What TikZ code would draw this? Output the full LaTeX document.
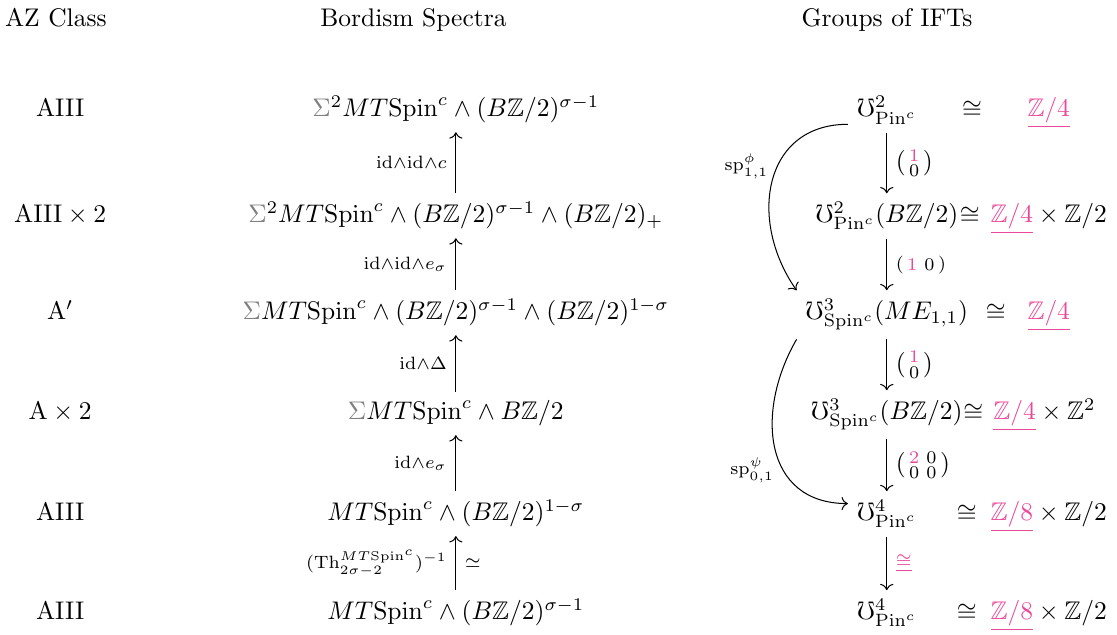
\documentclass[tikz,border=0pt]{standalone}
\usepackage{amsmath,amssymb}
\usepackage{tikz}
\usetikzlibrary{arrows.meta,calc,positioning}
\usepackage{xcolor}
\definecolor{zpink}{RGB}{236,72,153}
\newcommand{\Zb}{\mathbb{Z}}
\newcommand{\pku}[1]{\textcolor{zpink}{\underline{#1}}}
\newcommand{\gS}{{\color{gray}\Sigma}}

\begin{document}
\begin{tikzpicture}[
    r/.style={anchor=base,inner sep=3.3pt},
    lb/.style={execute at begin node=$\scriptstyle,execute at end node=$},
    e/.style={-{Computer Modern Rightarrow},line width=.4pt}
  ]
    \useasboundingbox (0,0) rectangle (15.40,-8.75);
    % column heads
    \node[r] (h1) at (0.77,-0.37) {AZ Class};
    \node[r] (h2) at (5.70,-0.37) {Bordism Spectra};
    \node[r] (h3) at (12.23,-0.37) {Groups of IFTs};
    % AZ classes
    \foreach \n/\y/\s in {1/-1.613/AIII,2/-3.074/{AIII\times 2},3/-4.411/{A'},4/-5.789/{A\times 2},5/-7.181/AIII,6/-8.546/AIII} {\node[r] (a\n) at (0.83,\y) {$\mathrm{\s}$};}
    % spectra
    \node[r] (m1) at (6.285,-1.613) {$\gS^2MT\mathrm{Spin}^c\wedge(B\Zb/2)^{\sigma-1}$};
    \node[r] (m2) at (6.285,-3.074) {$\gS^2MT\mathrm{Spin}^c\wedge(B\Zb/2)^{\sigma-1}\wedge(B\Zb/2)_+$};
    \node[r] (m3) at (6.285,-4.411) {$\gS MT\mathrm{Spin}^c\wedge(B\Zb/2)^{\sigma-1}\wedge(B\Zb/2)^{1-\sigma}$};
    \node[r] (m4) at (6.285,-5.789) {$\gS MT\mathrm{Spin}^c\wedge B\Zb/2$};
    \node[r] (m5) at (6.285,-7.181) {$MT\mathrm{Spin}^c\wedge(B\Zb/2)^{1-\sigma}$};
    \node[r] (m6) at (6.285,-8.546) {$MT\mathrm{Spin}^c\wedge(B\Zb/2)^{\sigma-1}$};
    \foreach \s/\t/\l in {m2/m1/{\mathrm{id}\wedge\mathrm{id}\wedge c},m3/m2/{\mathrm{id}\wedge\mathrm{id}\wedge e_\sigma},m4/m3/{\mathrm{id}\wedge\Delta},m5/m4/{\mathrm{id}\wedge e_\sigma}} {\draw[e] (\s)--(\t) node[midway,left,lb] {\l};}
    \draw[e] (m6)--(m5) node[midway,left,lb] {(\mathrm{Th}^{MT\mathrm{Spin}^c}_{2\sigma-2})^{-1}} node[midway,right,lb] {\simeq};
    % groups of IFTs
    \node[r] (t1) at (12.226,-1.613) {$\mho^2_{\mathrm{Pin}^c}$};
    \node[r] (t2) at (12.226,-3.074) {$\mho^2_{\mathrm{Pin}^c}(B\Zb/2)$};
    \node[r] (t3) at (12.226,-4.411) {$\mho^3_{\mathrm{Spin}^c}(ME_{1,1})$};
    \node[r] (t4) at (12.226,-5.789) {$\mho^3_{\mathrm{Spin}^c}(B\Zb/2)$};
    \node[r] (t5) at (12.226,-7.181) {$\mho^4_{\mathrm{Pin}^c}$};
    \node[r] (t6) at (12.226,-8.546) {$\mho^4_{\mathrm{Pin}^c}$};
    \foreach \n/\x/\y in {1/13.40/-1.613,2/13.37/-3.074,3/13.728/-4.411,4/13.42/-5.789,5/13.33/-7.181,6/13.33/-8.546} {\node[r] (c\n) at (\x,\y) {$\cong$};}
    \node[r] (g1) at (14.459,-1.613) {$\pku{\Zb/4}$};
    \node[r] (g2) at (14.459,-3.074) {$\pku{\Zb/4}\times\Zb/2$};
    \node[r] (g3) at (14.459,-4.411) {$\pku{\Zb/4}$};
    \node[r] (g4) at (14.40,-5.789) {$\pku{\Zb/4}\times\Zb^2$};
    \node[r] (g5) at (14.459,-7.181) {$\pku{\Zb/8}\times\Zb/2$};
    \node[r] (g6) at (14.459,-8.546) {$\pku{\Zb/8}\times\Zb/2$};
    \foreach \s/\t/\l in {t1/t2/{\left(\begin{smallmatrix}\textcolor{zpink}{1}\\0\end{smallmatrix}\right)},t2/t3/{\left(\begin{smallmatrix}\textcolor{zpink}{1}&0\end{smallmatrix}\right)},t3/t4/{\left(\begin{smallmatrix}\textcolor{zpink}{1}\\0\end{smallmatrix}\right)},t4/t5/{\left(\begin{smallmatrix}\textcolor{zpink}{2}&0\\0&0\end{smallmatrix}\right)},t5/t6/{\pku{\cong}}} {\draw[e] (\s)--(\t) node[midway,right,lb] {\l};}
    % specialization maps
    \draw[e] (t1.200) to[out=180,in=125,looseness=1.25] node[pos=.42,left,lb] {\mathrm{sp}^\phi_{1,1}} (t3.north west);
    \draw[e] (t3.south west) to[out=240,in=180,looseness=1.25] node[pos=.62,left,lb] {\mathrm{sp}^\psi_{0,1}} (t5.165);
\end{tikzpicture}
\end{document}
